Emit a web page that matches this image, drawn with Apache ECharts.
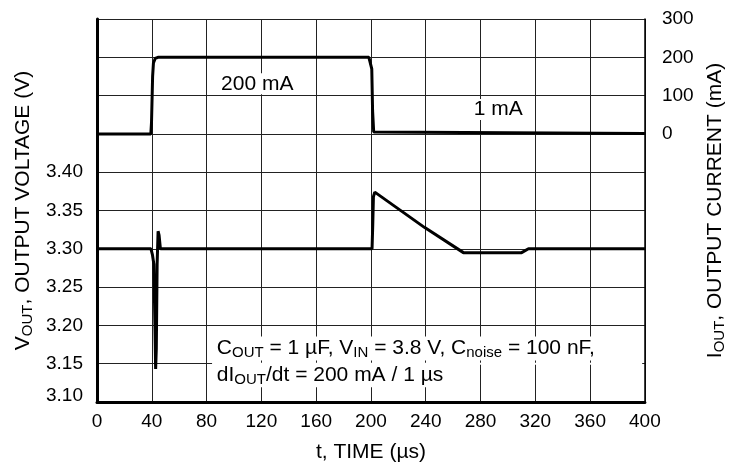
<!DOCTYPE html>
<html>
<head>
<meta charset="utf-8">
<title>Load transient</title>
<script src="https://cdn.jsdelivr.net/npm/echarts@6/dist/echarts.min.js"></script>
<style>
  html, body { margin: 0; padding: 0; background: #fff; }
  #chart { width: 735px; height: 468px; }
</style>
</head>
<body>
<div id="chart"></div>
<script>
// time axis (µs)
const timeTicks = [0, 40, 80, 120, 160, 200, 240, 280, 320, 360, 400];
// left axis labels (V), right axis labels (mA)
const voltTicks = [3.10, 3.15, 3.20, 3.25, 3.30, 3.35, 3.40];
const currTicks = [0, 100, 200, 300];

// output current trace
const currentTime = [0, 39.3, 39.8, 40.6, 41.2, 42.5, 44.5, 198.5, 199.8, 200.6, 201.2, 202, 203, 400];
const currentMA = [0, 0, 30, 150, 185, 197, 200, 200, 196, 170, 60, 5, 1, 1];

// output voltage trace
const voltTime = [0, 39.4, 40.5, 41.5, 42.3, 42.8, 43.3, 43.9, 44.6, 45.3, 46.3,
  200.8, 201.3, 201.8, 202.8, 239, 267.5, 310, 315, 400];
const voltV = [3.30, 3.30, 3.292, 3.28, 3.20, 3.143, 3.17, 3.28, 3.323, 3.318, 3.30,
  3.30, 3.33, 3.368, 3.374, 3.328, 3.295, 3.295, 3.30, 3.30];

const FONT = "Liberation Sans, Arial, Helvetica, sans-serif";
const INK = "#000";

const chart = echarts.init(document.getElementById("chart"));

// axis title styles (main text + subscript)
const main = { fontSize: 21, fontFamily: FONT, color: INK, lineHeight: 24 };
const sub = { fontSize: 15, fontFamily: FONT, color: INK, verticalAlign: "bottom", lineHeight: 15 };

chart.setOption({
  animation: false,
  backgroundColor: "#fff",
  grid: { left: 97, right: 90, top: 19, bottom: 65 },
  xAxis: {
    type: "value",
    min: 0,
    max: 400,
    interval: 40,
    name: "t, TIME (\u00b5s)",
    nameLocation: "middle",
    nameGap: 40,
    nameTextStyle: { fontSize: 21, fontFamily: FONT, color: INK },
    axisLine: { onZero: false, lineStyle: { color: INK, width: 3 } },
    axisTick: { show: false },
    axisLabel: {
      fontSize: 19, fontFamily: FONT, color: INK, margin: 10,
      formatter: v => (timeTicks.indexOf(v) >= 0 ? String(v) : "")
    },
    splitLine: { show: true, lineStyle: { color: "#222", width: 1 } }
  },
  yAxis: [
    {
      type: "value",
      min: 3.10,
      max: 3.60,
      interval: 0.05,
      position: "left",
      name: "{m|V}{s|OUT}{m|, OUTPUT VOLTAGE (V)}",
      nameLocation: "middle",
      nameRotate: 90,
      nameGap: 55,
      nameTextStyle: { rich: { m: main, s: sub } },
      axisLine: { onZero: false, lineStyle: { color: INK, width: 3 } },
      axisTick: { show: false },
      axisLabel: {
        fontSize: 19, fontFamily: FONT, color: INK, margin: 14,
        formatter: v => {
          const hit = voltTicks.find(t => Math.abs(t - v) < 1e-6);
          if (hit === undefined) return "";
          // bottom label sits a little above the axis line in the original
          return hit === 3.10 ? "{lo|3.10}" : hit.toFixed(2);
        },
        rich: { lo: { fontSize: 19, fontFamily: FONT, color: INK, padding: [0, 0, 12, 0] } }
      },
      splitLine: { show: true, lineStyle: { color: "#222", width: 1 } }
    },
    {
      type: "value",
      min: -700,
      max: 300,
      interval: 100,
      position: "right",
      name: "{m|I}{s|OUT}{m|, OUTPUT CURRENT (mA)}",
      nameLocation: "middle",
      nameRotate: 90,
      nameGap: 52,
      nameTextStyle: { rich: { m: main, s: sub } },
      axisLine: { onZero: false, lineStyle: { color: INK, width: 1.5 } },
      axisTick: { show: false },
      axisLabel: {
        fontSize: 19, fontFamily: FONT, color: INK, margin: 17,
        formatter: v => (currTicks.indexOf(v) >= 0 ? String(v) : "")
      },
      splitLine: { show: false }
    }
  ],
  series: [
    {
      name: "current",
      type: "line",
      yAxisIndex: 1,
      showSymbol: false,
      symbol: "none",
      lineStyle: { color: INK, width: 3 },
      data: currentTime.map((t, i) => [t, currentMA[i]]),
      z: 5
    },
    {
      name: "voltage",
      type: "line",
      yAxisIndex: 0,
      showSymbol: false,
      symbol: "none",
      lineStyle: { color: INK, width: 3 },
      data: voltTime.map((t, i) => [t, voltV[i]]),
      z: 5
    }
  ]
});

// text notes placed through the axes
function at(t, v, axis) {
  return chart.convertToPixel({ xAxisIndex: 0, yAxisIndex: axis }, [t, v]);
}
const noteRich = {
  m: { fontSize: 21, fontFamily: FONT, color: INK },
  s: { fontSize: 15, fontFamily: FONT, color: INK, verticalAlign: "bottom", padding: [9, 0, 0, 0] }
};
function note(pos, text, align) {
  return {
    type: "text",
    x: pos[0],
    y: pos[1],
    z: 10,
    style: {
      text: text,
      align: align,
      verticalAlign: "middle",
      backgroundColor: "#fff",
      padding: [0, 2],
      rich: noteRich
    }
  };
}
// the 3.15 grid line is hidden behind the note block in the original
const maskL = at(84, 3.15, 0);
const maskR = at(398, 3.15, 0);
chart.setOption({
  graphic: [
    {
      type: "rect",
      z: 1,
      shape: { x: maskL[0], y: maskL[1] - 1, width: maskR[0] - maskL[0], height: 2 },
      style: { fill: "#fff" }
    },
    note(at(117, 131, 1), "{m|200 mA}", "center"),
    note(at(293, 64, 1), "{m|1 mA}", "center"),
    note(at(86, 3.170, 0), "{m|C}{s|OUT}{m| = 1 \u00b5F, V}{s|IN}{m| = 3.8 V, C}{s|noise}{m| = 100 nF,}", "left"),
    note(at(86, 3.135, 0), "{m|dI}{s|OUT}{m|/dt = 200 mA / 1 \u00b5s}", "left")
  ]
});
</script>
</body>
</html>
